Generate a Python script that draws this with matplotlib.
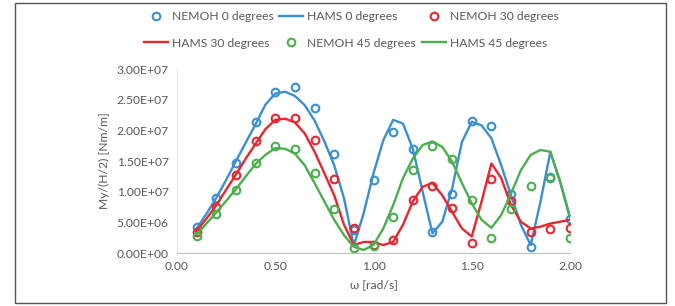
import numpy as np
import matplotlib.pyplot as plt
from matplotlib.ticker import FuncFormatter
from matplotlib.patches import Rectangle

# NEMOH points (omega 0.1 .. 2.0, step 0.1)
w_nemoh = [0.1, 0.2, 0.3, 0.4, 0.5, 0.6, 0.7, 0.8, 0.9, 1.0,
           1.1, 1.2, 1.3, 1.4, 1.5, 1.6, 1.7, 1.8, 1.9, 2.0]
nemoh_0 = [4.2, 8.9, 14.6, 21.4, 26.3, 27.1, 23.6, 16.2, 3.8, 11.9,
           19.7, 17.0, 3.5, 9.7, 21.5, 20.7, 9.6, 0.9, 12.4, 5.5]
nemoh_30 = [3.5, 7.5, 12.7, 18.2, 22.0, 22.0, 18.4, 12.1, 4.0, 1.3,
            2.1, 8.6, 11.0, 7.4, 1.6, 12.1, 8.4, 3.4, 3.9, 4.1]
nemoh_45 = [2.8, 6.4, 10.3, 14.7, 17.4, 16.9, 13.1, 7.2, 0.8, 1.1,
            5.9, 13.5, 17.5, 15.3, 8.6, 2.5, 7.2, 11.0, 12.3, 2.5]

# HAMS curves (omega 0.1 .. 2.0, step 0.05)
w_hams = [0.1, 0.15, 0.2, 0.25, 0.3, 0.35, 0.4, 0.45, 0.5, 0.55,
          0.6, 0.65, 0.7, 0.75, 0.8, 0.85, 0.9, 0.95, 1.0, 1.05,
          1.1, 1.15, 1.2, 1.25, 1.3, 1.35, 1.4, 1.45, 1.5, 1.55,
          1.6, 1.65, 1.7, 1.75, 1.8, 1.85, 1.9, 1.95, 2.0]
hams_0 = [4.0, 6.4, 9.0, 11.9, 15.0, 18.0, 21.0, 24.2, 26.0, 26.3,
          25.6, 24.1, 21.6, 18.2, 14.3, 8.9, 1.2, 6.5, 13.0, 18.4,
          21.7, 21.1, 17.0, 10.0, 3.2, 5.1, 10.5, 18.1, 21.4, 20.8,
          18.7, 14.3, 9.4, 4.6, 1.3, 8.4, 16.5, 11.6, 5.7]
hams_30 = [3.6, 5.6, 7.8, 10.3, 12.8, 15.4, 17.8, 20.2, 21.7, 21.9,
           21.3, 19.5, 16.5, 13.0, 9.4, 4.6, 1.3, 1.8, 1.8, 1.3,
           1.8, 4.6, 8.4, 10.8, 11.4, 9.4, 6.7, 4.0, 2.7, 8.4,
           14.6, 12.2, 7.8, 5.1, 4.0, 4.3, 4.8, 5.1, 5.4]
hams_45 = [3.0, 4.8, 6.6, 8.5, 10.4, 12.5, 14.5, 16.0, 17.1, 17.0,
           16.2, 14.3, 11.4, 8.4, 5.4, 2.9, 1.0, 0.5, 1.3, 4.0,
           7.8, 12.2, 15.4, 17.6, 18.2, 17.3, 14.9, 11.4, 8.1, 5.4,
           4.1, 6.2, 9.7, 13.5, 16.0, 16.8, 16.5, 11.6, 5.9]

blue = '#3a8fd2'
red = '#e8262e'
green = '#4caf4f'
txt = '#595959'
fs = 8.7

plt.rcParams['font.family'] = ['Lato', 'DejaVu Sans']

fig = plt.figure(figsize=(6.75, 3.06), dpi=100)
fig.patches.append(Rectangle((15 / 675, 3 / 306), 651 / 675, 300 / 306,
                             transform=fig.transFigure, fill=False,
                             edgecolor='#555555', lw=1.0))
ax = fig.add_axes([177 / 675, 1 - 253 / 306, 393 / 675, 184 / 306])

sc = 1e6
mk = dict(marker='o', ls='none', mfc='none', ms=5.5, mew=1.5)
h_n0, = ax.plot(w_nemoh, np.array(nemoh_0) * sc, color=blue, **mk)
h_h0, = ax.plot(w_hams, np.array(hams_0) * sc, color=blue, lw=1.7)
h_n30, = ax.plot(w_nemoh, np.array(nemoh_30) * sc, color=red, **mk)
h_h30, = ax.plot(w_hams, np.array(hams_30) * sc, color=red, lw=1.7)
h_n45, = ax.plot(w_nemoh, np.array(nemoh_45) * sc, color=green, **mk)
h_h45, = ax.plot(w_hams, np.array(hams_45) * sc, color=green, lw=1.7)

ax.set_xlim(0, 2.0)
ax.set_ylim(0, 3e7)
ax.set_xticks([0, 0.5, 1.0, 1.5, 2.0])
ax.set_yticks(np.arange(0, 3.01e7, 5e6))
ax.xaxis.set_major_formatter(FuncFormatter(lambda v, p: '%.2f' % v))
ax.yaxis.set_major_formatter(FuncFormatter(lambda v, p: '%.2E' % v))
ax.tick_params(length=0, labelsize=fs, colors=txt, pad=6)
for s in ['top', 'right']:
    ax.spines[s].set_visible(False)
ax.spines['left'].set_color('#e6e6e6')
ax.spines['bottom'].set_color('#bfbfbf')
ax.set_xlabel('ω [rad/s]', fontsize=fs, color=txt, labelpad=5)
ax.set_ylabel('My/(H/2) [Nm/m]', fontsize=fs, color=txt, labelpad=5)

handles = [h_n0, h_h30, h_h0, h_n45, h_n30, h_h45]
labels = ['NEMOH 0 degrees', 'HAMS 30 degrees', 'HAMS 0 degrees',
          'NEMOH 45 degrees', 'NEMOH 30 degrees', 'HAMS 45 degrees']
leg = fig.legend(handles, labels, ncol=3, loc='upper center',
                 bbox_to_anchor=(0.52, 1.0), frameon=False, fontsize=fs,
                 handlelength=2.0, columnspacing=0.5, labelspacing=1.3,
                 handletextpad=0.3)
for t in leg.get_texts():
    t.set_color(txt)

fig.savefig('out.png', dpi=100)
